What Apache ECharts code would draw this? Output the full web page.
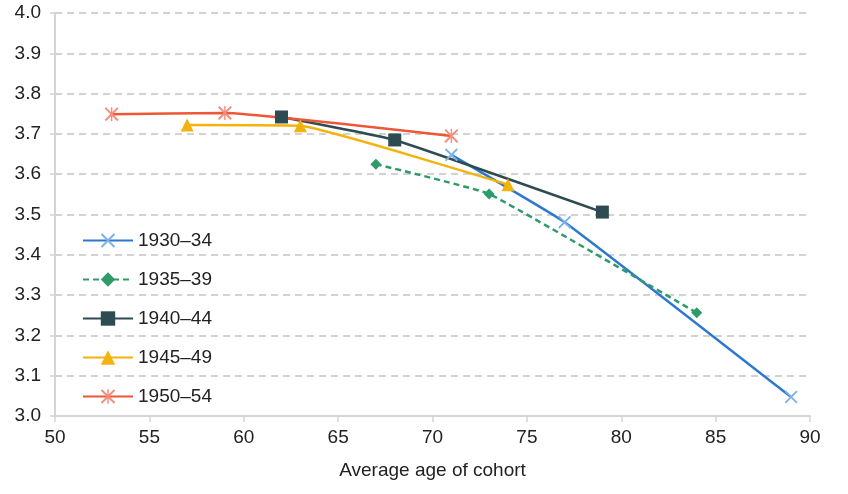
<!DOCTYPE html>
<html>
<head>
<meta charset="utf-8">
<script src="https://cdn.jsdelivr.net/npm/echarts@6/dist/echarts.min.js"></script>
<style>
html,body{margin:0;padding:0;background:#fff;}
#main{width:848px;height:494px;}
</style>
</head>
<body>
<div id="main"></div>
<script>
// cohorts, ages and values
var cohorts = ['1930–34', '1935–39', '1940–44', '1945–49', '1950–54'];
var ages3034 = [71, 77, 89];
var vals3034 = [3.648, 3.481, 3.047];
var ages3539 = [67, 73, 84];
var vals3539 = [3.625, 3.551, 3.256];
var ages4044 = [62, 68, 79];
var vals4044 = [3.742, 3.685, 3.506];
var ages4549 = [57, 63, 74];
var vals4549 = [3.722, 3.72, 3.574];
var ages5054 = [53, 59, 71];
var vals5054 = [3.749, 3.752, 3.695];

var xIcon = 'path://M0,1 L1,0 L10,9 L9,10 Z M9,0 L10,1 L1,10 L0,9 Z';
var starIcon = 'path://M0,1 L1,0 L10,9 L9,10 Z M9,0 L10,1 L1,10 L0,9 Z M4.5,0 L5.5,0 L5.5,10 L4.5,10 Z';

function pairs(xs, ys){
	var out = [];
	for(var i=0;i<xs.length;i++){ out.push([xs[i], ys[i]]); }
	return out;
}

function mkSeries(name, xs, ys, color, mcolor, symbol, size, dash){
	return {
		name: name,
		type: 'line',
		smooth: 0.1,
		data: pairs(xs, ys),
		symbol: symbol,
		symbolSize: size,
		showAllSymbol: true,
		lineStyle: {color: color, width: 2.5, type: dash ? [6,4] : 'solid'},
		itemStyle: {color: mcolor},
		emphasis: {disabled: true},
		z: 3
	};
}

var myChart = echarts.init(document.getElementById('main'));
var option = {
	animation: false,
	grid: {left: 55, right: 38, top: 13, bottom: 78},
	legend: {
		orient: 'vertical',
		left: 77,
		top: 226,
		itemWidth: 50,
		itemHeight: 18,
		itemGap: 20,
		textStyle: {fontFamily: 'Liberation Sans', fontSize: 19, color: '#222'},
		data: cohorts
	},
	xAxis: {
		type: 'value',
		min: 50, max: 90, interval: 5,
		name: 'Average age of cohort',
		nameLocation: 'middle',
		nameGap: 45,
		nameTextStyle: {fontFamily: 'Liberation Sans', fontSize: 19, color: '#222'},
		axisLine: {lineStyle: {color: '#d4d4d4', width: 2}},
		axisTick: {show: true, length: 6, lineStyle: {color: '#d4d4d4', width: 1.5}},
		axisLabel: {fontFamily: 'Liberation Sans', fontSize: 19, color: '#222', margin: 12},
		splitLine: {show: false}
	},
	yAxis: {
		type: 'value',
		min: 3.0, max: 4.0, interval: 0.1,
		axisLine: {show: true, lineStyle: {color: '#d4d4d4', width: 2}},
		axisTick: {show: true, length: 5, lineStyle: {color: '#d4d4d4', width: 1.5}},
		axisLabel: {fontFamily: 'Liberation Sans', fontSize: 19, color: '#222', margin: 14,
			formatter: function(v){ return v.toFixed(1); }},
		splitLine: {show: true, lineStyle: {color: '#c4c4c4', width: 1.5, type: [7,5]}}
	},
	series: [
		mkSeries(cohorts[0], ages3034, vals3034, '#2d78cf', '#7fb1e8', xIcon, 13, false),
		mkSeries(cohorts[1], ages3539, vals3539, '#2e9c6a', '#2e9c6a', 'diamond', 11, true),
		mkSeries(cohorts[2], ages4044, vals4044, '#2f4b52', '#2f4b52', 'rect', 13, false),
		mkSeries(cohorts[3], ages4549, vals4549, '#f4b20c', '#f4b20c', 'triangle', 13, false),
		mkSeries(cohorts[4], ages5054, vals5054, '#ee5638', '#f58d7c', starIcon, 14, false)
	]
};
myChart.setOption(option);
</script>
</body>
</html>
